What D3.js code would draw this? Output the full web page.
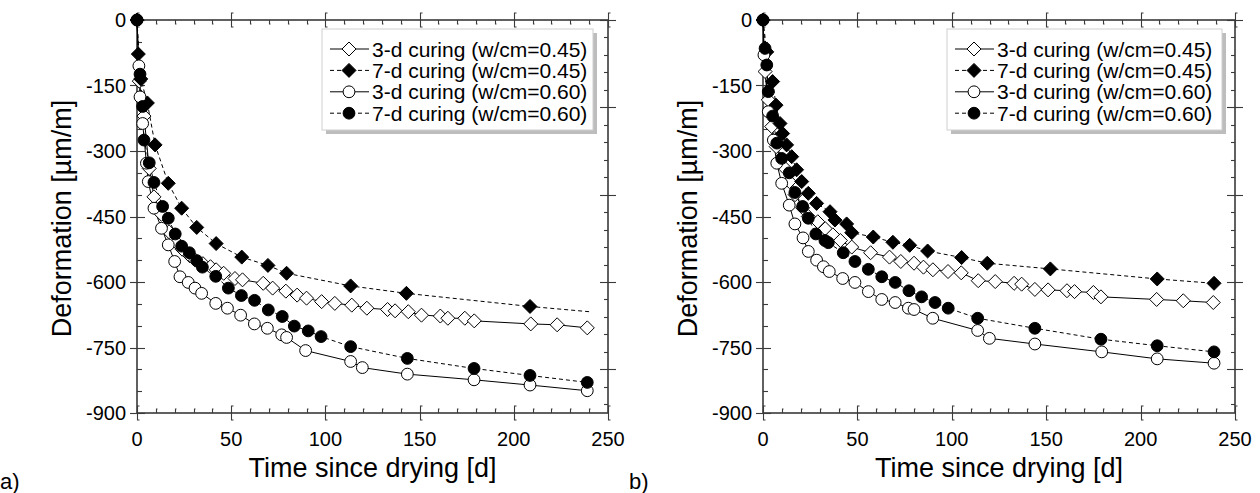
<!DOCTYPE html>
<html>
<head>
<meta charset="utf-8">
<script src="https://cdn.jsdelivr.net/npm/d3@7"></script>
<style>
  body { margin: 0; background: #fff; }
  svg { display: block; font-family: "Liberation Sans", Arial, sans-serif; }
</style>
</head>
<body>
<svg id="chart"></svg>
<script>
const width = 1260;
const height = 493;

// --------- panel a) ---------
const a_t_3d045 = [0, 1.2, 3.7, 6.5, 9, 13, 17, 21, 24, 28, 31, 35, 39, 42, 46, 52, 56, 67, 72, 79, 85, 90, 98, 105, 114, 122, 133, 137, 144, 151, 161, 165, 174, 179, 209, 223, 239];
const a_v_3d045 = [0, -140, -220, -340, -405, -445, -485, -510, -525, -540, -550, -558, -565, -572, -580, -592, -595, -603, -614, -621, -630, -637, -645, -649, -653, -660, -663, -666, -668, -676, -678, -683, -683, -689, -696, -698, -705];

const a_t_7d045 = [0, 0.7, 2, 5.5, 9.6, 16.6, 23.7, 31.7, 42, 55.6, 69.5, 79.4, 113.4, 143, 208.6, 240];
const a_v_7d045 = [0, -78, -135, -190, -286, -374, -431, -475, -512, -543, -562, -580, -609, -626, -656, -668];

const a_t_3d060 = [0, 1, 1.6, 3, 5, 6, 9, 13, 16.6, 20, 22.8, 27.2, 30.8, 34.3, 41.8, 48, 55, 62.3, 69.2, 76.8, 79.4, 89.5, 113.4, 119.6, 143.5, 178.9, 208.6, 239];
const a_v_3d060 = [0, -105, -176, -237, -328, -370, -431, -477, -515, -553, -588, -601, -614, -626, -649, -660, -676, -696, -706, -721, -727, -757, -782, -796, -811, -824, -836, -849];

const a_t_7d060 = [0, 1.6, 3, 3.7, 6.5, 9, 13.6, 16.6, 20.3, 23.7, 27.8, 31.7, 34.7, 41.8, 48.5, 55.4, 62.4, 69.7, 77.1, 83.5, 90.9, 97.7, 113.4, 143.5, 178.9, 208.6, 239];
const a_v_7d060 = [0, -124, -198, -275, -327, -372, -427, -454, -490, -518, -533, -551, -566, -587, -614, -631, -642, -664, -679, -701, -712, -725, -748, -775, -798, -814, -830];

// --------- panel b) ---------
const b_t_3d045 = [0, 1.1, 2.8, 4.6, 7, 10.8, 14, 17, 21, 24, 29, 33, 37, 41, 47, 57, 67, 73, 80, 85, 90, 98, 105, 114, 123, 133, 137, 144, 151, 161, 165, 175, 179, 208.5, 222.6, 238.5];
const b_v_3d045 = [0, -118, -183, -244, -290, -336, -370, -400, -430, -450, -462, -478, -492, -505, -520, -533, -543, -553, -557, -566, -572, -576, -579, -597, -599, -603, -605, -617, -618, -620, -622, -624, -634, -640, -643, -647];

const b_t_7d045 = [0, 2, 5.1, 6.9, 9, 10.4, 12.5, 15.2, 17.8, 20.5, 24, 28.4, 35.5, 38.1, 44.3, 47, 58.4, 68.8, 77.7, 87.2, 105.2, 118.8, 152.2, 208.8, 238.9];
const b_v_7d045 = [0, -73, -141, -195, -237, -260, -286, -313, -343, -370, -397, -420, -439, -458, -467, -487, -497, -509, -516, -529, -544, -557, -570, -593, -603];

const b_t_3d060 = [0, 0.5, 2.8, 5.5, 7.3, 9.9, 13.9, 16.9, 21.2, 24, 28.4, 32, 35.1, 42.2, 48.7, 55.8, 62.9, 70, 77, 80, 89.9, 113.7, 119.9, 144, 179.4, 208.8, 238.9];
const b_v_3d060 = [0, -80, -210, -275, -328, -374, -424, -467, -499, -530, -550, -565, -576, -592, -601, -622, -640, -647, -660, -663, -683, -711, -729, -742, -760, -776, -786];

const b_t_7d060 = [0, 1.1, 2, 2.8, 5.1, 7.3, 9.9, 13.9, 16.9, 21, 24, 28, 32.8, 34.6, 42.5, 48.7, 55.8, 62.9, 70, 77.3, 84, 91.1, 98.1, 113.7, 144, 179, 208.8, 238.9];
const b_v_7d060 = [0, -65, -103, -164, -220, -282, -317, -350, -395, -427, -454, -490, -505, -510, -533, -553, -571, -588, -601, -620, -634, -647, -660, -683, -706, -731, -746, -760];

const seriesNames = [
  "3-d curing (w/cm=0.45)",
  "7-d curing (w/cm=0.45)",
  "3-d curing (w/cm=0.60)",
  "7-d curing (w/cm=0.60)",
];

const xTicks = [0, 50, 100, 150, 200, 250];
const yTicks = [0, -150, -300, -450, -600, -750, -900];

// marker style per series: shape, fill, dashed line
const styles = [
  { shape: "diamond", fill: "#fff", dash: null },
  { shape: "diamond", fill: "#000", dash: "4,3" },
  { shape: "circle", fill: "#fff", dash: null },
  { shape: "circle", fill: "#000", dash: "4,3" },
];

const svg = d3.select("#chart").attr("width", width).attr("height", height);

function zip(ts, vs) {
  return ts.map((t, i) => ({ t: t, v: vs[i] }));
}

function drawMarker(sel, shape, fill) {
  if (shape === "diamond") {
    sel.append("path").attr("d", "M0,-7L7,0L0,7L-7,0Z");
  } else {
    sel.append("circle").attr("r", 5.9);
  }
  sel.selectAll("path,circle")
    .attr("fill", fill)
    .attr("stroke", "#000")
    .attr("stroke-width", 1);
}

function renderPanel(opts) {
  const { left, right, top, bottom, series, legend, label } = opts;
  const g = svg.append("g");

  const x = d3.scaleLinear().domain([0, 250]).range([left, right]);
  const y = d3.scaleLinear().domain([0, -900]).range([top, bottom]);
  // secondary right axis has its own tick spacing
  const rightMajor = d3.range(0, -901, -200);
  const rightMinor = d3.range(0, -901, -40);

  const axisColor = "#3a3a3a";

  // frame
  g.append("rect")
    .attr("x", left).attr("y", top)
    .attr("width", right - left).attr("height", bottom - top)
    .attr("fill", "none").attr("stroke", axisColor).attr("stroke-width", 1.6);

  const ticks = g.append("g").attr("stroke", axisColor).attr("stroke-width", 1.1);
  const xMinor = d3.range(0, 251, 10).filter((d) => d % 50 !== 0);
  const yMinor = d3.range(0, -901, -50).filter((d) => d % 150 !== 0);

  // x axes (bottom and top): "[" majors crossing the line, small minors inside
  [bottom, top].forEach((yy, k) => {
    const dir = k === 0 ? -1 : 1;
    xTicks.forEach((d) => {
      const px = Math.round(x(d)) + 0.5;
      ticks.append("path")
        .attr("fill", "none")
        .attr("d", `M${px + 2},${yy - 7}H${px}V${yy + 7}H${px + 2}`);
    });
    xMinor.forEach((d) => {
      const px = Math.round(x(d)) + 0.5;
      ticks.append("path")
        .attr("fill", "none")
        .attr("d", `M${px},${yy}V${yy + dir * 4}h1`);
    });
  });

  // left y axis
  yTicks.forEach((d) => {
    const py = Math.round(y(d)) + 0.5;
    ticks.append("line").attr("x1", left - 7).attr("x2", left + 8).attr("y1", py).attr("y2", py);
  });
  yMinor.forEach((d) => {
    const py = Math.round(y(d)) + 0.5;
    ticks.append("line").attr("x1", left).attr("x2", left + 5).attr("y1", py).attr("y2", py);
  });
  // right y axis
  rightMajor.forEach((d) => {
    const py = Math.round(y(d)) + 0.5;
    ticks.append("line").attr("x1", right - 8).attr("x2", right + 8).attr("y1", py).attr("y2", py);
  });
  rightMinor.filter((d) => d % 200 !== 0).forEach((d) => {
    const py = Math.round(y(d)) + 0.5;
    ticks.append("line").attr("x1", right - 4).attr("x2", right).attr("y1", py).attr("y2", py);
  });

  // tick labels
  g.append("g")
    .selectAll("text")
    .data(xTicks)
    .join("text")
    .attr("x", (d) => x(d))
    .attr("y", bottom + 33)
    .attr("text-anchor", "middle")
    .attr("font-size", 20)
    .text((d) => d);

  g.append("g")
    .selectAll("text")
    .data(yTicks)
    .join("text")
    .attr("x", left - 11)
    .attr("y", (d) => y(d) + 7)
    .attr("text-anchor", "end")
    .attr("font-size", 20)
    .text((d) => d);

  // axis titles
  g.append("text")
    .attr("x", (left + right) / 2)
    .attr("y", bottom + 64)
    .attr("text-anchor", "middle")
    .attr("font-size", 27)
    .text("Time since drying [d]");

  g.append("text")
    .attr("transform", `translate(${left - 66},${(top + bottom) / 2 + 2}) rotate(-90)`)
    .attr("text-anchor", "middle")
    .attr("font-size", 27)
    .text("Deformation [\u00b5m/m]");

  g.append("text")
    .attr("x", label.x)
    .attr("y", 489)
    .attr("font-size", 22)
    .text(label.text);

  // series
  const line = d3.line().x((d) => x(d.t)).y((d) => y(d.v));
  series.forEach((s, i) => {
    const st = styles[i];
    g.append("path")
      .datum(s.points)
      .attr("fill", "none")
      .attr("stroke", "#000")
      .attr("stroke-width", 1)
      .attr("stroke-dasharray", st.dash)
      .attr("d", line);
  });
  series.forEach((s, i) => {
    const st = styles[i];
    const pts = s.lastMarker === false ? s.points.slice(0, -1) : s.points;
    const m = g.append("g")
      .selectAll("g")
      .data(pts)
      .join("g")
      .attr("transform", (d) => `translate(${x(d.t)},${y(d.v)})`);
    m.each(function () {
      drawMarker(d3.select(this), st.shape, st.fill);
    });
  });

  // legend with grey drop shadow
  const lg = g.append("g");
  lg.append("rect")
    .attr("x", legend.x + 4).attr("y", legend.y + 4)
    .attr("width", legend.w).attr("height", legend.h)
    .attr("fill", "#bdbdbd");
  lg.append("rect")
    .attr("x", legend.x).attr("y", legend.y)
    .attr("width", legend.w).attr("height", legend.h)
    .attr("fill", "#fff").attr("stroke", "#cfcfcf").attr("stroke-width", 1);

  seriesNames.forEach((name, i) => {
    const st = styles[i];
    const cy = legend.y + 20 + i * 21.4;
    lg.append("line")
      .attr("x1", legend.x + 8).attr("x2", legend.x + 47)
      .attr("y1", cy).attr("y2", cy)
      .attr("stroke", "#000").attr("stroke-width", 1)
      .attr("stroke-dasharray", st.dash);
    const mk = lg.append("g").attr("transform", `translate(${legend.x + 27},${cy})`);
    drawMarker(mk, st.shape, st.fill);
    lg.append("text")
      .attr("x", legend.x + 50)
      .attr("y", cy + 7.5)
      .attr("font-size", 21)
      .text(name);
  });
}

renderPanel({
  left: 137, right: 608, top: 20, bottom: 413,
  series: [
    { points: zip(a_t_3d045, a_v_3d045) },
    { points: zip(a_t_7d045, a_v_7d045), lastMarker: false },
    { points: zip(a_t_3d060, a_v_3d060) },
    { points: zip(a_t_7d060, a_v_7d060) },
  ],
  legend: { x: 322, y: 29, w: 271, h: 101 },
  label: { x: 0, text: "a)" },
});

renderPanel({
  left: 763, right: 1235, top: 20, bottom: 413,
  series: [
    { points: zip(b_t_3d045, b_v_3d045) },
    { points: zip(b_t_7d045, b_v_7d045) },
    { points: zip(b_t_3d060, b_v_3d060) },
    { points: zip(b_t_7d060, b_v_7d060) },
  ],
  legend: { x: 947, y: 29, w: 275, h: 101 },
  label: { x: 629, text: "b)" },
});
</script>
</body>
</html>
